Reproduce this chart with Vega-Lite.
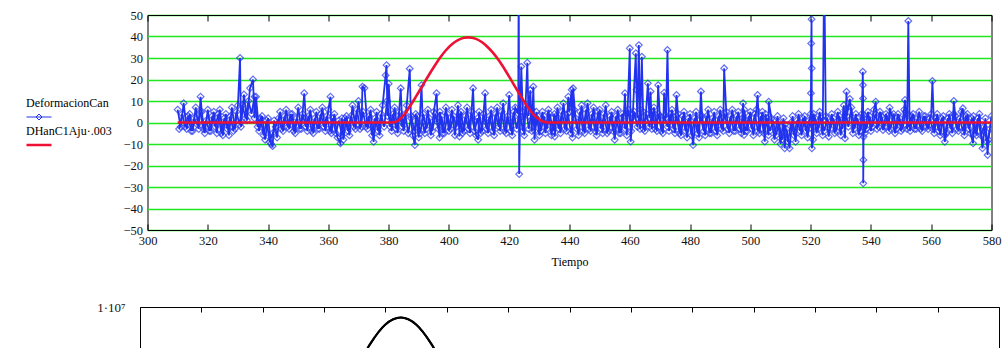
{
  "$schema": "https://vega.github.io/schema/vega-lite/v6.json",
  "autosize": {"type": "pad"},
  "padding": {"left": 33, "top": 8, "right": 0, "bottom": 0},
  "background": "white",
  "config": {
    "view": {"stroke": "black", "strokeWidth": 1},
    "axis": {"labelFont": "Liberation Sans Narrow", "labelFontSize": 12.5, "labelColor": "#111111", "tickColor": "black", "domainColor": "black", "titleFont": "Liberation Serif", "titleFontWeight": "normal", "titleFontSize": 12, "titleColor": "black", "labelFlush": false, "labelOverlap": false}
  },
  "datasets": {
    "deform": [
      {"t":310,"v":6},{"t":311,"v":-2},{"t":312,"v":9},{"t":313,"v":-3},{"t":314,"v":4},{"t":315,"v":-4},{"t":316,"v":7},{"t":317,"v":-3},{"t":317.6,"v":12},{"t":318,"v":5},{"t":319,"v":-5},{"t":320,"v":6},{"t":321,"v":-4},{"t":322,"v":5},{"t":323,"v":-5},{"t":324,"v":6},{"t":325,"v":-6},{"t":326,"v":4},{"t":327,"v":-6},{"t":328,"v":7},{"t":329,"v":-3},{"t":330,"v":8},{"t":330.7,"v":30},{"t":331,"v":-2},{"t":332,"v":13},{"t":333,"v":1},{"t":334,"v":16},{"t":335,"v":20},{"t":335.5,"v":2},{"t":336,"v":12},{"t":337,"v":-4},{"t":338,"v":3},{"t":339,"v":-8},{"t":340,"v":2},{"t":341,"v":-10},{"t":341.5,"v":-11},{"t":342,"v":1},{"t":343,"v":-7},{"t":344,"v":5},{"t":345,"v":-4},{"t":346,"v":6},{"t":347,"v":-3},{"t":348,"v":4},{"t":349,"v":-5},{"t":350,"v":7},{"t":351,"v":-3},{"t":352,"v":13.6},{"t":352.5,"v":2},{"t":353,"v":-4},{"t":354,"v":6},{"t":355,"v":-5},{"t":356,"v":5},{"t":357,"v":-3},{"t":358,"v":7},{"t":359,"v":-4},{"t":360,"v":6},{"t":360.7,"v":12},{"t":361,"v":-5},{"t":362,"v":4},{"t":363,"v":-7},{"t":364,"v":-9.7},{"t":364.5,"v":2},{"t":365,"v":-8},{"t":366,"v":3},{"t":367,"v":-6},{"t":368,"v":8},{"t":369,"v":-3},{"t":370,"v":10},{"t":371,"v":-2},{"t":371.3,"v":16.7},{"t":372,"v":16},{"t":373,"v":-3},{"t":374,"v":6},{"t":375,"v":-9},{"t":376,"v":5},{"t":377,"v":-6},{"t":378,"v":8},{"t":379,"v":22},{"t":379.3,"v":26.7},{"t":379.6,"v":3},{"t":380,"v":18},{"t":381,"v":-4},{"t":382,"v":7},{"t":383,"v":-5},{"t":384,"v":15.9},{"t":384.5,"v":0},{"t":385,"v":-4},{"t":386,"v":8},{"t":387,"v":25},{"t":387.4,"v":2},{"t":388,"v":-6},{"t":388.7,"v":-10.5},{"t":389,"v":4},{"t":390,"v":-7},{"t":390.9,"v":17.4},{"t":391.3,"v":0},{"t":392,"v":-5},{"t":393,"v":6},{"t":394,"v":-6},{"t":395,"v":5},{"t":395.9,"v":13.6},{"t":396.3,"v":0},{"t":396.9,"v":-7},{"t":397,"v":5},{"t":398,"v":-5},{"t":399,"v":7},{"t":400,"v":-4},{"t":401,"v":6},{"t":402,"v":-6},{"t":403,"v":8},{"t":403.5,"v":-6.5},{"t":404,"v":5},{"t":405,"v":-4},{"t":406,"v":7},{"t":407,"v":-5},{"t":408,"v":15.9},{"t":408.4,"v":1},{"t":409,"v":-6},{"t":409.7,"v":-8},{"t":410,"v":5},{"t":411,"v":-4},{"t":412,"v":13.6},{"t":412.4,"v":0},{"t":413,"v":-5},{"t":414,"v":6},{"t":415,"v":-6},{"t":416,"v":7},{"t":417,"v":-4},{"t":418,"v":9},{"t":419,"v":-5},{"t":420,"v":12.8},{"t":420.5,"v":0},{"t":421,"v":-6},{"t":422,"v":7},{"t":423,"v":4},{"t":423.15,"v":80},{"t":423.3,"v":-24},{"t":423.6,"v":2},{"t":424,"v":26},{"t":424.5,"v":5},{"t":425,"v":-6},{"t":426,"v":27.8},{"t":426.4,"v":3},{"t":427,"v":15},{"t":427.5,"v":-4},{"t":428,"v":16.7},{"t":428.4,"v":-8},{"t":429,"v":5},{"t":430,"v":-6},{"t":431,"v":5},{"t":432,"v":-5},{"t":433,"v":6},{"t":434,"v":-6},{"t":435,"v":4},{"t":435.1,"v":-6.5},{"t":436,"v":7},{"t":437,"v":-5},{"t":438,"v":9},{"t":439,"v":-4},{"t":439.6,"v":12},{"t":440,"v":5},{"t":440.7,"v":15.2},{"t":441,"v":-7},{"t":441.2,"v":15.9},{"t":442,"v":2},{"t":443,"v":-6},{"t":444,"v":8},{"t":445,"v":-5},{"t":446,"v":9},{"t":447,"v":-4},{"t":448,"v":7},{"t":449,"v":-6},{"t":450,"v":6},{"t":451,"v":-5},{"t":452,"v":8},{"t":453,"v":-4},{"t":454,"v":5},{"t":455,"v":-8},{"t":456,"v":6},{"t":457,"v":-5},{"t":458,"v":3},{"t":458.4,"v":13.6},{"t":459,"v":-6},{"t":460,"v":34.5},{"t":460.3,"v":-8.9},{"t":461,"v":4},{"t":462,"v":32.2},{"t":462.2,"v":15.2},{"t":462.5,"v":2},{"t":463,"v":36},{"t":463.4,"v":-3},{"t":464,"v":30.6},{"t":464.4,"v":5},{"t":465,"v":-4},{"t":466,"v":18.2},{"t":466.5,"v":2},{"t":466.9,"v":14.4},{"t":467.3,"v":-3},{"t":468,"v":7},{"t":469,"v":-4},{"t":469.4,"v":17.4},{"t":470,"v":3},{"t":471,"v":-5},{"t":471.4,"v":13.9},{"t":472,"v":2},{"t":472.5,"v":33.7},{"t":473,"v":-4},{"t":474,"v":6},{"t":475,"v":-5},{"t":475.5,"v":12.8},{"t":476,"v":4},{"t":477,"v":-6},{"t":478,"v":5},{"t":479,"v":-7},{"t":480,"v":4},{"t":481,"v":-10.5},{"t":482,"v":5},{"t":483,"v":-7},{"t":483.6,"v":14.4},{"t":484,"v":3},{"t":485,"v":-6},{"t":486,"v":6},{"t":487,"v":-5},{"t":488,"v":5},{"t":489,"v":-6},{"t":490,"v":6},{"t":491,"v":-4},{"t":491.3,"v":25.2},{"t":492,"v":5},{"t":493,"v":-5},{"t":494,"v":6},{"t":495,"v":-4},{"t":496,"v":5},{"t":497,"v":-5},{"t":497.6,"v":9},{"t":497.9,"v":-5.8},{"t":498,"v":6},{"t":499,"v":-4},{"t":500,"v":5},{"t":501,"v":-6},{"t":502,"v":6},{"t":502.4,"v":12.8},{"t":503,"v":-5},{"t":504,"v":5},{"t":504.8,"v":-8.9},{"t":505,"v":4},{"t":506,"v":-6},{"t":506.1,"v":9.7},{"t":507,"v":2},{"t":508,"v":-8},{"t":509,"v":3},{"t":510,"v":-10},{"t":511,"v":2},{"t":511.4,"v":-12},{"t":512,"v":-3},{"t":513,"v":-12},{"t":514,"v":3},{"t":515,"v":-9},{"t":516,"v":4},{"t":517,"v":-6},{"t":518,"v":3},{"t":519,"v":-7},{"t":520,"v":4},{"t":520.1,"v":13.6},{"t":520.2,"v":36.8},{"t":520.3,"v":48},{"t":520.35,"v":25.2},{"t":520.4,"v":-12},{"t":520.8,"v":-8},{"t":521,"v":4},{"t":522,"v":-5},{"t":523,"v":5},{"t":524,"v":-6},{"t":524.5,"v":75},{"t":525,"v":3},{"t":526,"v":-6.6},{"t":527,"v":4},{"t":528,"v":-5},{"t":529,"v":5},{"t":530,"v":-6},{"t":531,"v":8},{"t":531.4,"v":-7.4},{"t":531.9,"v":14.3},{"t":532,"v":3},{"t":533,"v":11},{"t":534,"v":-5},{"t":535,"v":4},{"t":536,"v":-6},{"t":537,"v":4},{"t":537.3,"v":23.6},{"t":537.35,"v":17.4},{"t":537.4,"v":11.2},{"t":537.45,"v":-28.3},{"t":537.5,"v":-17.4},{"t":537.55,"v":-6.6},{"t":537.6,"v":3.5},{"t":538,"v":-5},{"t":539,"v":5},{"t":540,"v":-4},{"t":541,"v":6},{"t":541.6,"v":9.7},{"t":542,"v":-3},{"t":543,"v":5},{"t":544,"v":-3.5},{"t":545,"v":4},{"t":546,"v":-4},{"t":546.2,"v":6.9},{"t":547,"v":3},{"t":548,"v":-5},{"t":549,"v":4},{"t":550,"v":-4},{"t":551,"v":6},{"t":551.3,"v":10.5},{"t":552,"v":-3},{"t":552.4,"v":47.2},{"t":552.8,"v":3},{"t":553,"v":-4},{"t":554,"v":4},{"t":555,"v":-3},{"t":556,"v":5},{"t":557,"v":-4},{"t":558,"v":3},{"t":559,"v":-3},{"t":560,"v":4},{"t":560.4,"v":19.3},{"t":561,"v":-5},{"t":562,"v":4},{"t":563,"v":-6},{"t":564,"v":3},{"t":564.5,"v":-9},{"t":565,"v":-5},{"t":566,"v":4},{"t":567,"v":-5},{"t":567.5,"v":10},{"t":568,"v":3},{"t":569,"v":-4},{"t":570,"v":5},{"t":570.5,"v":6.6},{"t":571,"v":-6},{"t":572,"v":4},{"t":573,"v":-5},{"t":573.9,"v":-9.7},{"t":574,"v":3},{"t":575,"v":-6},{"t":576,"v":4},{"t":577,"v":-12},{"t":578,"v":2},{"t":578.7,"v":-15.1},{"t":579,"v":-8},{"t":580,"v":3}
    ],
    "denso": [
      {"t":310.5,"v":-3},{"t":311.5,"v":4},{"t":312.5,"v":-2},{"t":313.5,"v":3},{"t":314.5,"v":-4},{"t":315.5,"v":2},{"t":316.5,"v":-1},{"t":317.5,"v":5},{"t":318.5,"v":-3},{"t":319.5,"v":1},
      {"t":320.5,"v":-4},{"t":321.5,"v":3},{"t":322.5,"v":-2},{"t":323.5,"v":4},{"t":324.5,"v":-5},{"t":325.5,"v":2},{"t":326.5,"v":-3},{"t":327.5,"v":3},{"t":328.5,"v":-4},{"t":329.5,"v":5},
      {"t":330.5,"v":-1},{"t":331.5,"v":8},{"t":332.5,"v":2},{"t":333.5,"v":10},{"t":334.5,"v":4},{"t":335.5,"v":12},{"t":336.5,"v":-2},{"t":337.5,"v":2},{"t":338.5,"v":-6},{"t":339.5,"v":1},
      {"t":340.5,"v":-9},{"t":341.5,"v":-5},{"t":342.5,"v":-2},{"t":343.5,"v":2},{"t":344.5,"v":-3},{"t":345.5,"v":3},{"t":346.5,"v":-2},{"t":347.5,"v":4},{"t":348.5,"v":-4},{"t":349.5,"v":2},
      {"t":350.5,"v":-3},{"t":351.5,"v":4},{"t":352.5,"v":-2},{"t":353.5,"v":3},{"t":354.5,"v":-4},{"t":355.5,"v":2},{"t":356.5,"v":-3},{"t":357.5,"v":4},{"t":358.5,"v":-2},{"t":359.5,"v":3},
      {"t":360.5,"v":-4},{"t":361.5,"v":2},{"t":362.5,"v":-5},{"t":363.5,"v":1},{"t":364.5,"v":-6},{"t":365.5,"v":2},{"t":366.5,"v":-4},{"t":367.5,"v":3},{"t":368.5,"v":-2},{"t":369.5,"v":6},
      {"t":370.5,"v":-3},{"t":371.5,"v":5},{"t":372.5,"v":-2},{"t":373.5,"v":3},{"t":374.5,"v":-6},{"t":375.5,"v":2},{"t":376.5,"v":-4},{"t":377.5,"v":4},{"t":378.5,"v":-2},{"t":379.5,"v":10},
      {"t":380.5,"v":-2},{"t":381.5,"v":4},{"t":382.5,"v":-3},{"t":383.5,"v":5},{"t":384.5,"v":-2},{"t":385.5,"v":4},{"t":386.5,"v":-5},{"t":387.5,"v":3},{"t":388.5,"v":-4},{"t":389.5,"v":3},
      {"t":390.5,"v":-5},{"t":391.5,"v":4},{"t":392.5,"v":-3},{"t":393.5,"v":2},{"t":394.5,"v":-4},{"t":395.5,"v":4},{"t":396.5,"v":-3},{"t":397.5,"v":3},{"t":398.5,"v":-5},{"t":399.5,"v":4},
      {"t":400.5,"v":-3},{"t":401.5,"v":3},{"t":402.5,"v":-2},{"t":403.5,"v":4},{"t":404.5,"v":-5},{"t":405.5,"v":3},{"t":406.5,"v":-3},{"t":407.5,"v":5},{"t":408.5,"v":-4},{"t":409.5,"v":2},
      {"t":410.5,"v":-5},{"t":411.5,"v":4},{"t":412.5,"v":-3},{"t":413.5,"v":3},{"t":414.5,"v":-4},{"t":415.5,"v":4},{"t":416.5,"v":-2},{"t":417.5,"v":5},{"t":418.5,"v":-4},{"t":419.5,"v":3},
      {"t":420.5,"v":-4},{"t":421.5,"v":5},{"t":422.5,"v":-3},{"t":423.5,"v":6},{"t":424.5,"v":-4},{"t":425.5,"v":8},{"t":426.5,"v":-3},{"t":427.5,"v":6},{"t":428.5,"v":-4},{"t":429.5,"v":3},
      {"t":430.5,"v":-4},{"t":431.5,"v":3},{"t":432.5,"v":-3},{"t":433.5,"v":4},{"t":434.5,"v":-4},{"t":435.5,"v":3},{"t":436.5,"v":-3},{"t":437.5,"v":5},{"t":438.5,"v":-3},{"t":439.5,"v":4},
      {"t":440.5,"v":-5},{"t":441.5,"v":6},{"t":442.5,"v":-3},{"t":443.5,"v":5},{"t":444.5,"v":-4},{"t":445.5,"v":6},{"t":446.5,"v":-3},{"t":447.5,"v":4},{"t":448.5,"v":-4},{"t":449.5,"v":5},
      {"t":450.5,"v":-3},{"t":451.5,"v":4},{"t":452.5,"v":-5},{"t":453.5,"v":3},{"t":454.5,"v":-4},{"t":455.5,"v":3},{"t":456.5,"v":-5},{"t":457.5,"v":4},{"t":458.5,"v":-3},{"t":459.5,"v":6},
      {"t":460.5,"v":-4},{"t":461.5,"v":5},{"t":462.5,"v":-2},{"t":463.5,"v":6},{"t":464.5,"v":-3},{"t":465.5,"v":4},{"t":466.5,"v":-2},{"t":467.5,"v":5},{"t":468.5,"v":-3},{"t":469.5,"v":4},
      {"t":470.5,"v":-4},{"t":471.5,"v":3},{"t":472.5,"v":-2},{"t":473.5,"v":4},{"t":474.5,"v":-3},{"t":475.5,"v":3},{"t":476.5,"v":-5},{"t":477.5,"v":3},{"t":478.5,"v":-4},{"t":479.5,"v":2},
      {"t":480.5,"v":-6},{"t":481.5,"v":2},{"t":482.5,"v":-5},{"t":483.5,"v":3},{"t":484.5,"v":-4},{"t":485.5,"v":3},{"t":486.5,"v":-5},{"t":487.5,"v":2},{"t":488.5,"v":-4},{"t":489.5,"v":3},
      {"t":490.5,"v":-3},{"t":491.5,"v":4},{"t":492.5,"v":-3},{"t":493.5,"v":3},{"t":494.5,"v":-4},{"t":495.5,"v":3},{"t":496.5,"v":-3},{"t":497.5,"v":2},{"t":498.5,"v":-4},{"t":499.5,"v":3},
      {"t":500.5,"v":-3},{"t":501.5,"v":4},{"t":502.5,"v":-4},{"t":503.5,"v":3},{"t":504.5,"v":-5},{"t":505.5,"v":2},{"t":506.5,"v":-4},{"t":507.5,"v":1},{"t":508.5,"v":-6},{"t":509.5,"v":0},
      {"t":510.5,"v":-8},{"t":511.5,"v":-1},{"t":512.5,"v":-9},{"t":513.5,"v":0},{"t":514.5,"v":-6},{"t":515.5,"v":1},{"t":516.5,"v":-4},{"t":517.5,"v":2},{"t":518.5,"v":-4},{"t":519.5,"v":1},
      {"t":520.5,"v":-3},{"t":521.5,"v":2},{"t":522.5,"v":-3},{"t":523.5,"v":2},{"t":524.5,"v":-4},{"t":525.5,"v":2},{"t":526.5,"v":-3},{"t":527.5,"v":2},{"t":528.5,"v":-4},{"t":529.5,"v":3},
      {"t":530.5,"v":-3},{"t":531.5,"v":6},{"t":532.5,"v":-2},{"t":533.5,"v":7},{"t":534.5,"v":-3},{"t":535.5,"v":2},{"t":536.5,"v":-4},{"t":537.5,"v":2},{"t":538.5,"v":-3},{"t":539.5,"v":3},
      {"t":540.5,"v":-2},{"t":541.5,"v":4},{"t":542.5,"v":-2},{"t":543.5,"v":3},{"t":544.5,"v":-2},{"t":545.5,"v":3},{"t":546.5,"v":-3},{"t":547.5,"v":4},{"t":548.5,"v":-3},{"t":549.5,"v":2},
      {"t":550.5,"v":-3},{"t":551.5,"v":5},{"t":552.5,"v":-2},{"t":553.5,"v":3},{"t":554.5,"v":-3},{"t":555.5,"v":2},{"t":556.5,"v":-3},{"t":557.5,"v":3},{"t":558.5,"v":-2},{"t":559.5,"v":2},
      {"t":560.5,"v":-3},{"t":561.5,"v":2},{"t":562.5,"v":-4},{"t":563.5,"v":2},{"t":564.5,"v":-6},{"t":565.5,"v":2},{"t":566.5,"v":-3},{"t":567.5,"v":4},{"t":568.5,"v":-3},{"t":569.5,"v":2},
      {"t":570.5,"v":-4},{"t":571.5,"v":3},{"t":572.5,"v":-3},{"t":573.5,"v":2},{"t":574.5,"v":-5},{"t":575.5,"v":2},{"t":576.5,"v":-6},{"t":577.5,"v":-2},{"t":578.5,"v":-9},{"t":579.5,"v":-3}
    ],
    "ajuste": [
      {"t":310,"v":0},{"t":381,"v":0},{"t":383,"v":0.8},{"t":385,"v":3.4},{"t":387,"v":7.4},{"t":389,"v":11.9},{"t":391,"v":16.6},{"t":393,"v":21.3},{"t":395,"v":25.8},{"t":397,"v":30},{"t":399,"v":33.6},{"t":401,"v":36.4},{"t":403,"v":38.3},{"t":405,"v":39.4},{"t":406.4,"v":39.6},{"t":409,"v":38.9},{"t":411,"v":37.3},{"t":413,"v":34.9},{"t":415,"v":31.8},{"t":417,"v":28},{"t":419,"v":23.6},{"t":421,"v":18.9},{"t":423,"v":14.2},{"t":425,"v":9.6},{"t":427,"v":5.5},{"t":429,"v":2.4},{"t":431,"v":0.6},{"t":433,"v":0},{"t":580,"v":0}
    ],
    "curva": [
      {"t":335,"v":300000},{"t":345,"v":1040000},{"t":355,"v":2730000},{"t":360,"v":4000000},{"t":365,"v":5460000},{"t":370,"v":6960000},{"t":375,"v":8280000},{"t":380,"v":9190000},{"t":385,"v":9510000},{"t":390,"v":9190000},{"t":395,"v":8280000},{"t":400,"v":6960000},{"t":405,"v":5460000},{"t":410,"v":4000000},{"t":415,"v":2730000},{"t":425,"v":1040000},{"t":435,"v":300000}
    ]
  },
  "vconcat": [
    {
      "width": 844,
      "height": 215,
      "resolve": {"axis": {"x": "independent"}},
      "layer": [
        {
          "data": {"name": "deform"},
          "mark": {"type": "line", "clip": true, "strokeWidth": 1.8},
          "encoding": {
            "x": {"field": "t", "type": "quantitative", "scale": {"domain": [300, 580], "nice": false, "zero": false},
                  "axis": {"orient": "bottom", "values": [300,320,340,360,380,400,420,440,460,480,500,520,540,560,580], "tickCount": 40, "domain": true, "grid": false, "tickSize": -6, "labelPadding": 10, "title": "Tiempo", "titlePadding": 10}},
            "y": {"field": "v", "type": "quantitative", "scale": {"domain": [-50, 50], "nice": false, "zero": false},
                  "axis": {"values": [-50,-40,-30,-20,-10,0,10,20,30,40,50], "tickCount": 40, "domain": false, "ticks": false, "grid": true, "gridColor": "#22e622", "gridWidth": 1.5, "labelPadding": 5, "title": null}},
            "color": {"datum": "DeformacionCan", "type": "nominal",
                      "scale": {"domain": ["DeformacionCan", "DHanC1Aju·.003"], "range": ["#2233ee", "#ee1133"]},
                      "legend": {"orient": "none", "legendX": -107, "legendY": 96, "title": null, "labelFont": "Liberation Serif", "labelFontSize": 12, "labelColor": "black", "symbolSize": 625, "symbolType": "M-1,0H1", "symbolStrokeWidth": 1.2, "labelOffset": -19, "rowPadding": 3,
                                 "encode": {"labels": {"update": {"dy": {"value": -14}}},
                                            "symbols": {"update": {"shape": {"signal": "datum.value === 'DeformacionCan' ? 'M-1,0H1M0,-0.24L0.24,0L0,0.24L-0.24,0Z' : 'M-1,0H1'"}, "strokeWidth": {"signal": "datum.value === 'DeformacionCan' ? 1 : 2.5"}, "fill": {"value": "transparent"}}}}}}
          }
        },
        {
          "data": {"name": "denso"},
          "mark": {"type": "line", "clip": true, "strokeWidth": 1.8},
          "encoding": {
            "x": {"field": "t", "type": "quantitative", "axis": null},
            "y": {"field": "v", "type": "quantitative"},
            "color": {"datum": "DeformacionCan", "type": "nominal"}
          }
        },
        {
          "data": {"name": "deform"},
          "mark": {"type": "point", "shape": "diamond", "filled": false, "size": 45, "strokeWidth": 1.2, "clip": true},
          "encoding": {
            "x": {"field": "t", "type": "quantitative", "axis": null},
            "y": {"field": "v", "type": "quantitative"},
            "color": {"datum": "DeformacionCan", "type": "nominal"}
          }
        },
        {
          "data": {"name": "denso"},
          "mark": {"type": "point", "shape": "diamond", "filled": false, "size": 45, "strokeWidth": 1.2, "clip": true},
          "encoding": {
            "x": {"field": "t", "type": "quantitative", "axis": null},
            "y": {"field": "v", "type": "quantitative"},
            "color": {"datum": "DeformacionCan", "type": "nominal"}
          }
        },
        {
          "data": {"name": "ajuste"},
          "mark": {"type": "line", "clip": true, "strokeWidth": 2.6, "interpolate": "monotone"},
          "encoding": {
            "x": {"field": "t", "type": "quantitative",
                  "axis": {"orient": "top", "values": [300,320,340,360,380,400,420,440,460,480,500,520,540,560,580], "tickCount": 40, "labels": false, "domain": true, "grid": false, "tickSize": -6, "title": null}},
            "y": {"field": "v", "type": "quantitative"},
            "color": {"datum": "DHanC1Aju·.003", "type": "nominal"}
          }
        }
      ]
    },
    {
      "width": 859,
      "height": 41,
      "view": {"stroke": null},
      "data": {"name": "curva"},
      "resolve": {"axis": {"y": "independent"}},
      "layer": [
        {
          "mark": {"type": "line", "color": "black", "strokeWidth": 2, "interpolate": "monotone", "clip": true},
          "encoding": {
            "x": {"field": "t", "type": "quantitative", "scale": {"domain": [300, 580], "nice": false, "zero": false},
                  "axis": {"orient": "top", "values": [300,320,340,360,380,400,420,440,460,480,500,520,540,560,580], "tickCount": 40, "labels": false, "domain": true, "grid": false, "tickSize": -5, "title": null}},
            "y": {"field": "v", "type": "quantitative", "scale": {"domain": [8100000, 10000000], "nice": false, "zero": false},
                  "axis": {"orient": "left", "values": [10000000], "labelExpr": "'1·10⁷'", "labelFont": "Liberation Serif", "labelFontSize": 13, "labelPadding": 15, "ticks": false, "domain": true, "grid": false, "title": null}}
          }
        },
        {
          "mark": {"type": "line", "color": "black", "strokeWidth": 2, "interpolate": "monotone", "clip": true},
          "encoding": {
            "x": {"field": "t", "type": "quantitative"},
            "y": {"field": "v", "type": "quantitative", "axis": {"orient": "right", "labels": false, "ticks": false, "domain": true, "grid": false, "title": null}}
          }
        }
      ]
    }
  ],
  "spacing": 77,
  "center": true,
  "bounds": "flush",
  "resolve": {"scale": {"x": "independent", "y": "independent"}}
}
